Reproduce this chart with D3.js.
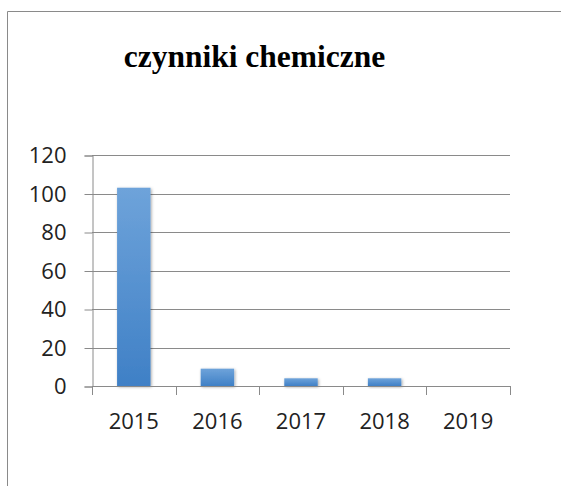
<!DOCTYPE html>
<html>
<head>
<meta charset="utf-8">
<script src="https://cdn.jsdelivr.net/npm/d3@7"></script>
<style>
  html, body { margin: 0; padding: 0; background: #fff; }
  svg { display: block; }
</style>
</head>
<body>
<script>
const title = "czynniki chemiczne";
const categories = ["2015", "2016", "2017", "2018", "2019"];
const values = [103, 9, 4, 4, 0];
const yTicks = [0, 20, 40, 60, 80, 100, 120];

const W = 561, H = 486;
const plot = { left: 92, right: 510, top: 155, bottom: 386 };

const svg = d3.select("body").append("svg").attr("width", W).attr("height", H);

const defs = svg.append("defs");
const grad = defs.append("linearGradient").attr("id", "barGrad")
  .attr("x1", 0).attr("y1", 0).attr("x2", 0).attr("y2", 1);
grad.append("stop").attr("offset", "0%").attr("stop-color", "#6ea3da");
grad.append("stop").attr("offset", "100%").attr("stop-color", "#3f80c6");
const shadow = defs.append("filter").attr("id", "shadow")
  .attr("x", "-30%").attr("y", "-30%").attr("width", "160%").attr("height", "160%");
shadow.append("feDropShadow").attr("dx", 1).attr("dy", 1).attr("stdDeviation", 1.5)
  .attr("flood-color", "#000").attr("flood-opacity", 0.35);

// chart border (left and top visible)
svg.append("path")
  .attr("d", `M7.5,${H} L7.5,11.5 L${W},11.5`)
  .attr("fill", "none").attr("stroke", "#8a8a8a").attr("stroke-width", 1);

// title
svg.append("text")
  .attr("x", 254.5).attr("y", 67)
  .attr("text-anchor", "middle")
  .attr("font-family", "'Liberation Serif', 'Times New Roman', serif")
  .attr("font-weight", "bold")
  .attr("font-size", 31.5)
  .attr("fill", "#000")
  .text(title);

const x = d3.scaleBand().domain(categories).range([plot.left, plot.right]).padding(0);
const y = d3.scaleLinear().domain([0, 120]).range([plot.bottom, plot.top]);

const gridColor = "#8a8a8a";

// gridlines
svg.append("g").selectAll("line").data(yTicks.filter(d => d > 0)).join("line")
  .attr("x1", plot.left).attr("x2", plot.right)
  .attr("y1", d => Math.round(y(d)) + 0.5).attr("y2", d => Math.round(y(d)) + 0.5)
  .attr("stroke", gridColor).attr("stroke-width", 1);

// y axis
const yAxis = svg.append("g")
  .attr("transform", `translate(${plot.left + 0.5},0.5)`)
  .call(d3.axisLeft(y).tickValues(yTicks).tickSize(8).tickPadding(18).tickFormat(d3.format("d")));
yAxis.select(".domain").attr("stroke", gridColor);
yAxis.selectAll(".tick line").attr("stroke", gridColor);
yAxis.selectAll(".tick text")
  .attr("font-family", "'Open Sans', 'Liberation Sans', sans-serif")
  .attr("font-size", 22).attr("fill", "#222");

// bars
const barW = x.bandwidth() * 0.4;
svg.append("g").selectAll("rect").data(values).join("rect")
  .attr("x", (d, i) => x(categories[i]) + (x.bandwidth() - barW) / 2)
  .attr("y", d => y(d))
  .attr("width", barW)
  .attr("height", d => y(0) - y(d))
  .attr("fill", "url(#barGrad)")
  .attr("filter", "url(#shadow)");

// x axis
const xAxisLine = svg.append("g");
xAxisLine.append("line")
  .attr("x1", plot.left).attr("x2", plot.right)
  .attr("y1", plot.bottom + 0.5).attr("y2", plot.bottom + 0.5)
  .attr("stroke", gridColor);
const bounds = categories.map(c => x(c)).concat([plot.right]);
xAxisLine.selectAll("line.tick").data(bounds).join("line").attr("class", "tick")
  .attr("x1", d => Math.round(d) + 0.5).attr("x2", d => Math.round(d) + 0.5)
  .attr("y1", plot.bottom).attr("y2", plot.bottom + 9)
  .attr("stroke", gridColor);
xAxisLine.selectAll("text").data(categories).join("text")
  .attr("x", d => x(d) + x.bandwidth() / 2)
  .attr("y", 429)
  .attr("text-anchor", "middle")
  .attr("font-family", "'Open Sans', 'Liberation Sans', sans-serif")
  .attr("font-size", 22).attr("fill", "#222")
  .text(d => d);
</script>
</body>
</html>
